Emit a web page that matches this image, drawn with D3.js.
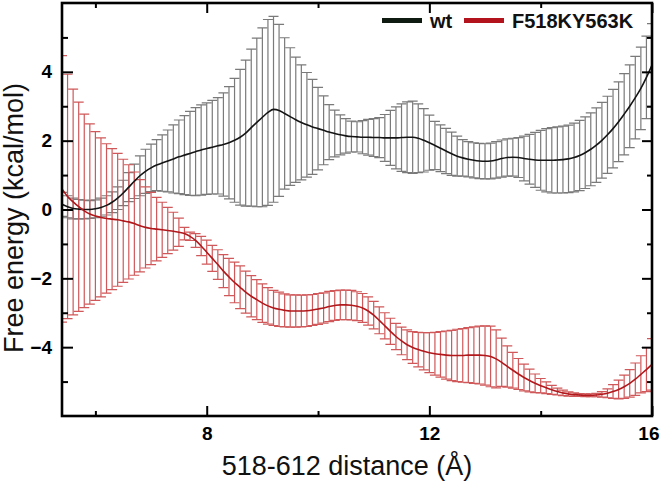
<!DOCTYPE html>
<html>
<head>
<meta charset="utf-8">
<script src="https://cdn.jsdelivr.net/npm/d3@7"></script>
<style>
  body { margin: 0; background: #fff; }
  svg { display: block; font-family: "Liberation Sans", Arial, sans-serif; }
</style>
</head>
<body>
<div id="chart"></div>
<script>
// reaction coordinate (Å)
const distance = [
  5.4, 5.5, 5.6, 5.7, 5.8, 5.9, 6.0, 6.1, 6.2, 6.3,
  6.4, 6.5, 6.6, 6.7, 6.8, 6.9, 7.0, 7.1, 7.2, 7.3,
  7.4, 7.5, 7.6, 7.7, 7.8, 7.9, 8.0, 8.1, 8.2, 8.3,
  8.4, 8.5, 8.6, 8.7, 8.8, 8.9, 9.0, 9.1, 9.2, 9.3,
  9.4, 9.5, 9.6, 9.7, 9.8, 9.9, 10.0, 10.1, 10.2, 10.3,
  10.4, 10.5, 10.6, 10.7, 10.8, 10.9, 11.0, 11.1, 11.2, 11.3,
  11.4, 11.5, 11.6, 11.7, 11.8, 11.9, 12.0, 12.1, 12.2, 12.3,
  12.4, 12.5, 12.6, 12.7, 12.8, 12.9, 13.0, 13.1, 13.2, 13.3,
  13.4, 13.5, 13.6, 13.7, 13.8, 13.9, 14.0, 14.1, 14.2, 14.3,
  14.4, 14.5, 14.6, 14.7, 14.8, 14.9, 15.0, 15.1, 15.2, 15.3,
  15.4, 15.5, 15.6, 15.7, 15.8, 15.9, 16.0
];

// wt free energy and error (kcal/mol)
const wtEnergy = [
  0.15, 0.08, 0.03, 0.01, 0.00, 0.00, 0.02, 0.06, 0.12, 0.21,
  0.33, 0.48, 0.65, 0.82, 0.98, 1.11, 1.21, 1.29, 1.35, 1.41,
  1.47, 1.53, 1.58, 1.63, 1.68, 1.73, 1.77, 1.81, 1.85, 1.89,
  1.94, 2.01, 2.10, 2.22, 2.38, 2.53, 2.68, 2.82, 2.91, 2.88,
  2.79, 2.70, 2.61, 2.53, 2.46, 2.40, 2.35, 2.30, 2.25, 2.21,
  2.17, 2.14, 2.12, 2.11, 2.10, 2.10, 2.09, 2.09, 2.08, 2.08,
  2.08, 2.09, 2.10, 2.10, 2.07, 2.01, 1.94, 1.86, 1.78, 1.70,
  1.62, 1.55, 1.50, 1.46, 1.43, 1.41, 1.40, 1.41, 1.44, 1.48,
  1.51, 1.52, 1.51, 1.48, 1.46, 1.44, 1.43, 1.43, 1.43, 1.44,
  1.45, 1.47, 1.51, 1.57, 1.65, 1.75, 1.87, 2.01, 2.17, 2.35,
  2.55, 2.77, 3.00, 3.25, 3.52, 3.84, 4.20
];
const wtError = [
  0.35, 0.32, 0.30, 0.28, 0.27, 0.26, 0.26, 0.27, 0.28, 0.30,
  0.33, 0.37, 0.42, 0.50, 0.58, 0.64, 0.69, 0.74, 0.82, 0.90,
  0.99, 1.07, 1.15, 1.22, 1.28, 1.31, 1.33, 1.36, 1.40, 1.50,
  1.63, 1.80, 1.97, 2.12, 2.28, 2.45, 2.60, 2.70, 2.70, 2.50,
  2.20, 2.00, 1.82, 1.67, 1.52, 1.38, 1.20, 1.00, 0.80, 0.68,
  0.58, 0.50, 0.45, 0.44, 0.48, 0.52, 0.55, 0.58, 0.68, 0.80,
  0.90, 0.98, 1.03, 1.05, 1.00, 0.92, 0.80, 0.70, 0.68, 0.66,
  0.63, 0.58, 0.53, 0.51, 0.51, 0.51, 0.51, 0.52, 0.53, 0.54,
  0.54, 0.55, 0.58, 0.65, 0.72, 0.80, 0.87, 0.92, 0.95, 0.96,
  0.97, 0.98, 1.00, 1.02, 1.04, 1.06, 1.08, 1.10, 1.12, 1.14,
  1.16, 1.18, 1.20, 1.20, 1.20, 1.20, 1.20
];

// F518KY563K free energy and error (kcal/mol)
const mutEnergy = [
  0.60, 0.38, 0.22, 0.08, -0.04, -0.13, -0.19, -0.23, -0.26, -0.28,
  -0.30, -0.33, -0.36, -0.41, -0.47, -0.52, -0.55, -0.57, -0.59, -0.61,
  -0.63, -0.66, -0.70, -0.78, -0.90, -1.06, -1.24, -1.42, -1.60, -1.79,
  -1.96, -2.12, -2.26, -2.40, -2.52, -2.62, -2.72, -2.80, -2.86, -2.90,
  -2.93, -2.95, -2.95, -2.95, -2.94, -2.92, -2.89, -2.86, -2.82, -2.79,
  -2.77, -2.77, -2.78, -2.81, -2.86, -2.95, -3.07, -3.22, -3.38, -3.54,
  -3.69, -3.82, -3.93, -4.01, -4.07, -4.12, -4.16, -4.19, -4.21, -4.23,
  -4.24, -4.24, -4.24, -4.23, -4.23, -4.23, -4.24, -4.27, -4.34, -4.44,
  -4.56, -4.67, -4.78, -4.88, -4.97, -5.05, -5.12, -5.18, -5.24, -5.29,
  -5.33, -5.36, -5.38, -5.39, -5.40, -5.40, -5.39, -5.37, -5.34, -5.29,
  -5.23, -5.15, -5.05, -4.93, -4.79, -4.65, -4.50
];
const mutError = [
  3.87, 3.55, 3.28, 3.04, 2.81, 2.62, 2.45, 2.31, 2.17, 2.05,
  1.93, 1.79, 1.66, 1.50, 1.34, 1.18, 1.05, 0.92, 0.80, 0.67,
  0.55, 0.41, 0.18, 0.12, 0.20, 0.28, 0.35, 0.38, 0.43, 0.48,
  0.54, 0.59, 0.62, 0.61, 0.60, 0.58, 0.56, 0.53, 0.51, 0.50,
  0.48, 0.47, 0.47, 0.46, 0.46, 0.45, 0.45, 0.44, 0.44, 0.43,
  0.43, 0.43, 0.43, 0.42, 0.42, 0.41, 0.40, 0.39, 0.38, 0.38,
  0.38, 0.40, 0.43, 0.46, 0.50, 0.54, 0.58, 0.62, 0.66, 0.70,
  0.73, 0.76, 0.78, 0.80, 0.82, 0.84, 0.86, 0.88, 0.84, 0.70,
  0.60, 0.52, 0.45, 0.39, 0.33, 0.27, 0.21, 0.17, 0.13, 0.10,
  0.08, 0.06, 0.05, 0.04, 0.04, 0.04, 0.05, 0.08, 0.13, 0.20,
  0.27, 0.34, 0.40, 0.47, 0.54, 0.64, 0.75
];

const xMajor = [8, 12, 16];
const xMinor = [6, 10, 14];
const yMajor = [-4, -2, 0, 2, 4];
const yMinor = [-5, -3, -1, 1, 3, 5];

const series = [
  { name: 'wt', energy: wtEnergy, error: wtError, line: '#141414', bar: '#7a7a7a', key: '#0f1a10' },
  { name: 'F518KY563K', energy: mutEnergy, error: mutError, line: '#b0181c', bar: '#d0585a', key: '#b3131d' }
];

const width = 660;
const height = 484;
const margin = { top: 3, right: 8, bottom: 68, left: 62 };
const innerW = width - margin.left - margin.right;
const innerH = height - margin.top - margin.bottom;

const svg = d3.select('#chart')
  .append('svg')
  .attr('width', width)
  .attr('height', height);

const g = svg.append('g')
  .attr('transform', `translate(${margin.left},${margin.top})`);

const x = d3.scaleLinear().domain([5.4, 16]).range([0, innerW]);
const y = d3.scaleLinear().domain([-6, 6]).range([innerH, 0]);

g.append('clipPath').attr('id', 'plot-clip')
  .append('rect').attr('width', innerW).attr('height', innerH);

const plot = g.append('g').attr('clip-path', 'url(#plot-clip)');
const capHalf = 5;

// error bars first, curves on top
series.forEach(s => {
  const pts = distance.map((d, i) => ({ x: d, v: s.energy[i], e: s.error[i] }));
  const bars = plot.append('g')
    .attr('stroke', s.bar)
    .attr('stroke-width', 1.2)
    .attr('fill', 'none');

  bars.selectAll('path')
    .data(pts)
    .enter()
    .append('path')
    .attr('d', p => {
      const cx = x(p.x);
      const top = y(p.v + p.e);
      const bot = y(p.v - p.e);
      return `M${cx},${top}V${bot}M${cx - capHalf},${top}H${cx + capHalf}M${cx - capHalf},${bot}H${cx + capHalf}`;
    });
});

series.forEach(s => {
  const line = d3.line()
    .x((d, i) => x(distance[i]))
    .y(d => y(d))
    .curve(d3.curveMonotoneX);

  plot.append('path')
    .datum(s.energy)
    .attr('fill', 'none')
    .attr('stroke', s.line)
    .attr('stroke-width', 1.6)
    .attr('d', line);
});

// axes: ticks point inwards on all four sides
function styleAxis(sel) {
  sel.select('.domain').remove();
  sel.selectAll('line').attr('stroke', '#000').attr('stroke-width', 2);
  sel.selectAll('text')
    .attr('font-size', 19)
    .attr('font-weight', 'bold')
    .attr('fill', '#000')
    .attr('font-family', '"Liberation Sans", Arial, sans-serif');
}

const xAxisMajor = g.append('g')
  .attr('transform', `translate(0,${innerH})`)
  .call(d3.axisBottom(x).tickValues(xMajor).tickSize(-10).tickPadding(11).tickFormat(d3.format('d')))
  .call(styleAxis);
// last label sits at the window edge, keep it inside
xAxisMajor.selectAll('.tick text')
  .filter(d => d === 16)
  .attr('text-anchor', 'end')
  .attr('dx', 7);

g.append('g')
  .attr('transform', `translate(0,${innerH})`)
  .call(d3.axisBottom(x).tickValues(xMinor).tickSize(-5).tickFormat(''))
  .call(styleAxis);
g.append('g')
  .call(d3.axisTop(x).tickValues(xMajor).tickSize(-10).tickFormat(''))
  .call(styleAxis);
g.append('g')
  .call(d3.axisTop(x).tickValues(xMinor).tickSize(-5).tickFormat(''))
  .call(styleAxis);

g.append('g')
  .call(d3.axisLeft(y).tickValues(yMajor).tickSize(-11).tickPadding(10).tickFormat(d3.format('d')))
  .call(styleAxis);
g.append('g')
  .call(d3.axisLeft(y).tickValues(yMinor).tickSize(-6).tickFormat(''))
  .call(styleAxis);
g.append('g')
  .attr('transform', `translate(${innerW},0)`)
  .call(d3.axisRight(y).tickValues(yMajor).tickSize(-10).tickFormat(''))
  .call(styleAxis);
g.append('g')
  .attr('transform', `translate(${innerW},0)`)
  .call(d3.axisRight(y).tickValues(yMinor).tickSize(-5).tickFormat(''))
  .call(styleAxis);

// frame
g.append('rect')
  .attr('width', innerW)
  .attr('height', innerH)
  .attr('fill', 'none')
  .attr('stroke', '#000')
  .attr('stroke-width', 2.6);

// axis titles
svg.append('text')
  .attr('x', 347)
  .attr('y', 475)
  .attr('text-anchor', 'middle')
  .attr('font-size', 27)
  .attr('fill', '#111')
  .text('518-612 distance (Å)');

svg.append('text')
  .attr('transform', 'rotate(-90)')
  .attr('x', -218)
  .attr('y', 23)
  .attr('text-anchor', 'middle')
  .attr('font-size', 27)
  .attr('fill', '#111')
  .text('Free energy (kcal/mol)');

// legend
const legend = svg.append('g');
const legendPos = [
  { bx: 382, tx: 430 },
  { bx: 464, tx: 512 }
];
series.forEach((s, i) => {
  legend.append('rect')
    .attr('x', legendPos[i].bx)
    .attr('y', 18)
    .attr('width', 40)
    .attr('height', 5)
    .attr('fill', s.key);
  legend.append('text')
    .attr('x', legendPos[i].tx)
    .attr('y', 28)
    .attr('font-size', 20)
    .attr('font-weight', 'bold')
    .attr('fill', '#111')
    .text(s.name);
});
</script>
</body>
</html>
